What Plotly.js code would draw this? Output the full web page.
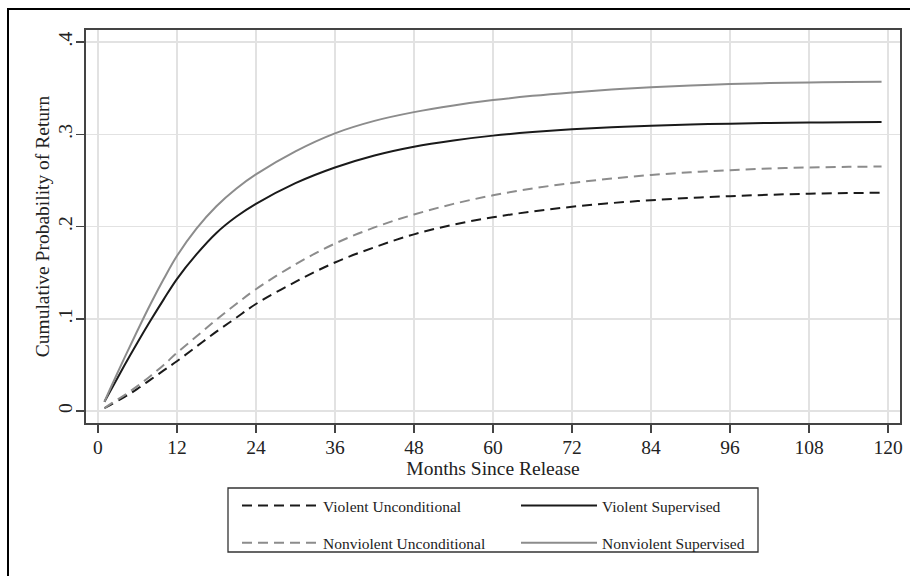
<!DOCTYPE html>
<html>
<head>
<meta charset="utf-8">
<script src="https://cdn.plot.ly/plotly-3.0.1.min.js"></script>
<style>
  html, body { margin: 0; padding: 0; background: #ffffff; }
  #chart { width: 910px; height: 576px; }
</style>
</head>
<body>
<div id="chart"></div>
<script>
// ---- data ----
const months = [1, 2, 4, 6, 8, 10, 12, 15, 18, 21, 24, 30, 36, 42, 48, 54, 60, 66, 72, 78, 84, 90, 96, 102, 108, 114, 119];

const violentUnconditional = [0.003, 0.007, 0.015, 0.024, 0.034, 0.044, 0.054, 0.070, 0.086, 0.101, 0.116, 0.140, 0.161, 0.1775, 0.1915, 0.2020, 0.2100, 0.2163, 0.2214, 0.2254, 0.2285, 0.2310, 0.2329, 0.2344, 0.2355, 0.2362, 0.2366];

const violentSupervised = [0.010, 0.023, 0.049, 0.074, 0.098, 0.121, 0.143, 0.170, 0.193, 0.2105, 0.2245, 0.247, 0.264, 0.2770, 0.2865, 0.2933, 0.2985, 0.3023, 0.3053, 0.3076, 0.3093, 0.3106, 0.3115, 0.3122, 0.3127, 0.3130, 0.3132];

const nonviolentUnconditional = [0.003, 0.008, 0.017, 0.027, 0.038, 0.050, 0.063, 0.081, 0.099, 0.116, 0.132, 0.159, 0.1815, 0.1990, 0.2130, 0.2245, 0.2338, 0.2412, 0.2472, 0.2520, 0.2558, 0.2588, 0.2611, 0.2628, 0.2640, 0.2647, 0.2650];

const nonviolentSupervised = [0.010, 0.026, 0.057, 0.087, 0.116, 0.143, 0.168, 0.198, 0.222, 0.241, 0.2565, 0.2815, 0.301, 0.3145, 0.3240, 0.3312, 0.3370, 0.3416, 0.3453, 0.3484, 0.3509, 0.3529, 0.3544, 0.3555, 0.3562, 0.3567, 0.3569];

const seriesNames = ["Violent Unconditional", "Nonviolent Unconditional", "Violent Supervised", "Nonviolent Supervised"];

const xTickVals = [0, 12, 24, 36, 48, 60, 72, 84, 96, 108, 120];
const xTickText = ["0", "12", "24", "36", "48", "60", "72", "84", "96", "108", "120"];
const yTickVals = [0, 0.1, 0.2, 0.3, 0.4];
const yTickText = ["0", ".1", ".2", ".3", ".4"];

const xTitle = "Months Since Release";
const yTitle = "Cumulative Probability of Return";

// ---- styling ----
const FONT = "Liberation Serif, Times New Roman, serif";
const BLACK = "#1a1a1a";
const GRAY = "#8c8c8c";
const DASH = "10px,6px";
const FS = 19.5;

const traces = [
  {x: months, y: violentUnconditional, name: seriesNames[0], legend: "legend", legendgroup: "a",
   mode: "lines", line: {color: BLACK, width: 2, dash: DASH, shape: "spline", smoothing: 1}},
  {x: months, y: nonviolentUnconditional, name: seriesNames[1], legend: "legend", legendgroup: "b",
   mode: "lines", line: {color: GRAY, width: 2, dash: DASH, shape: "spline", smoothing: 1}},
  {x: months, y: violentSupervised, name: seriesNames[2], legend: "legend2", legendgroup: "c",
   mode: "lines", line: {color: BLACK, width: 2, shape: "spline", smoothing: 1}},
  {x: months, y: nonviolentSupervised, name: seriesNames[3], legend: "legend2", legendgroup: "d",
   mode: "lines", line: {color: GRAY, width: 2, shape: "spline", smoothing: 1}}
];

// plot area: left 86, right 900, top 30, bottom 423 (px)
const L = 86, R = 900, T = 30, B = 423;
const px = p => (p - L) / (R - L);
const py = q => (B - q) / (B - T);

const legendCommon = {
  xanchor: "left", yanchor: "top", orientation: "v",
  bgcolor: "rgba(0,0,0,0)", borderwidth: 0,
  font: {family: FONT, size: 15.5, color: "#222"},
  itemwidth: 76, tracegroupgap: 14, itemclick: false, itemdoubleclick: false
};

const layout = {
  width: 910, height: 576,
  margin: {l: L, r: 910 - R, t: T, b: 576 - B, pad: 0},
  paper_bgcolor: "#ffffff", plot_bgcolor: "#ffffff",
  font: {family: FONT, size: FS, color: "#222"},
  showlegend: true,
  xaxis: {
    range: [-1.8, 121.8], tickvals: xTickVals, ticktext: xTickText,
    showgrid: true, gridcolor: "#e2e2e2", gridwidth: 1.5, zeroline: false,
    showline: true, mirror: true, linecolor: "#444", linewidth: 2,
    ticks: "outside", ticklen: 8, tickwidth: 1.5, tickcolor: "#444",
    ticklabelstandoff: -2,
    tickfont: {family: FONT, size: FS, color: "#222"},
    title: {text: xTitle, font: {family: FONT, size: FS, color: "#222"}, standoff: 0},
    automargin: false, fixedrange: true
  },
  yaxis: {
    range: [-0.013, 0.413], tickvals: yTickVals, ticktext: yTickText,
    showgrid: true, gridcolor: "#e2e2e2", gridwidth: 1.5, zeroline: false,
    showline: true, mirror: true, linecolor: "#444", linewidth: 2,
    ticks: "outside", ticklen: 8, tickwidth: 1.5, tickcolor: "#444",
    ticklabelstandoff: -4,
    tickangle: -90,
    tickfont: {family: FONT, size: FS, color: "#222"},
    title: {text: yTitle, font: {family: FONT, size: FS, color: "#222"}, standoff: 0},
    automargin: false, fixedrange: true
  },
  legend: Object.assign({}, legendCommon, {x: px(237), y: py(489)}),
  legend2: Object.assign({}, legendCommon, {x: px(516), y: py(489)}),
  shapes: [
    {type: "rect", xref: "paper", yref: "paper", x0: px(228), x1: px(758), y0: py(552), y1: py(488),
     line: {color: "#333", width: 1.3}, fillcolor: "rgba(0,0,0,0)", layer: "above"},
    {type: "rect", xref: "paper", yref: "paper", x0: px(8), x1: px(1000), y0: py(650), y1: py(9),
     line: {color: "#000", width: 2}, fillcolor: "rgba(0,0,0,0)", layer: "above"}
  ]
};

Plotly.newPlot("chart", traces, layout, {displayModeBar: false, staticPlot: true});
</script>
</body>
</html>
